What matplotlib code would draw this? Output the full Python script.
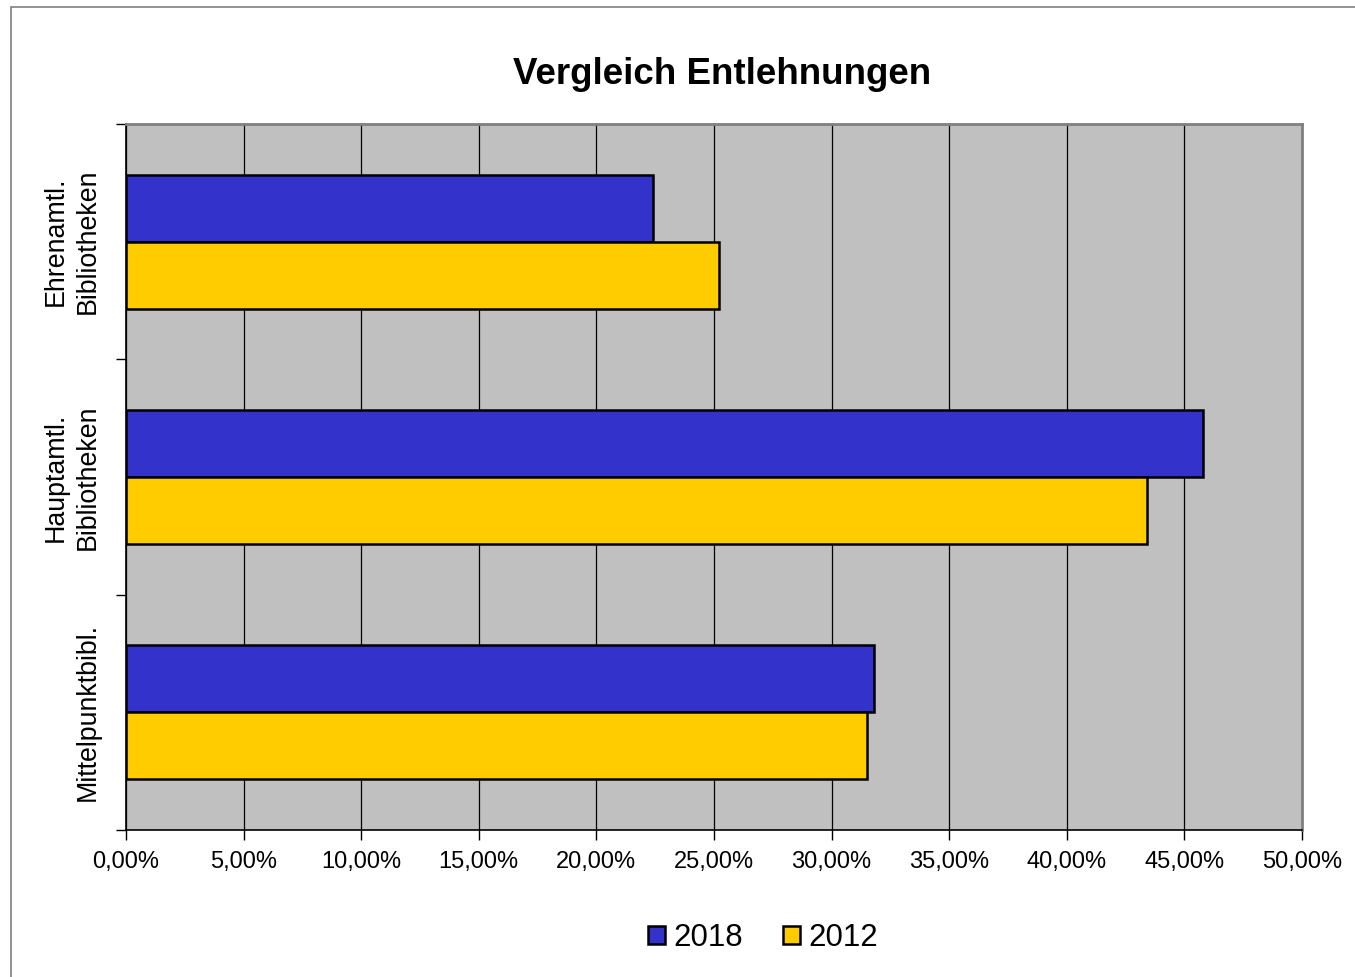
import numpy as np
import matplotlib.pyplot as plt
from matplotlib.patches import Rectangle
from matplotlib.ticker import FuncFormatter

plt.rcParams['font.family'] = ['Liberation Sans', 'DejaVu Sans']

kategorien = ['Ehrenamtl.\nBibliotheken', 'Hauptamtl.\nBibliotheken', 'Mittelpunktbibl.']
werte_2018 = [22.4, 45.8, 31.8]
werte_2012 = [25.2, 43.4, 31.5]
jahre = ['2018', '2012']

fig = plt.figure(figsize=(13.55, 9.77), dpi=100)
ax = fig.add_axes([126 / 1355, 1 - 830 / 977, (1302 - 126) / 1355, (830 - 124) / 977])

# Rahmen um das ganze Diagramm
fig.patches.append(Rectangle((11 / 1355, -0.05), 1.1, 1 - 7 / 977 + 0.05,
                             transform=fig.transFigure, fill=False,
                             edgecolor='#808080', linewidth=1.2))

y = np.arange(len(kategorien))
h = 0.285
ax.barh(y - h / 2, werte_2018, height=h, color='#3333CC', edgecolor='black',
        linewidth=1.8, label=jahre[0], zorder=3)
ax.barh(y + h / 2, werte_2012, height=h, color='#FFCC00', edgecolor='black',
        linewidth=1.8, label=jahre[1], zorder=3)

ax.set_facecolor('#C0C0C0')
ax.set_xlim(0, 50)
ax.set_ylim(2.5, -0.5)
ax.set_xticks(np.arange(0, 51, 5))
ax.xaxis.set_major_formatter(FuncFormatter(lambda v, p: f'{v:.2f}%'.replace('.', ',')))
ax.grid(axis='x', color='black', linewidth=0.9, zorder=1)
ax.set_axisbelow(True)

ax.set_yticks([-0.5, 0.5, 1.5, 2.5])
ax.set_yticklabels([])
ax.set_yticks(y, minor=True)
ax.set_yticklabels(kategorien, minor=True, rotation=90, va='center',
                   multialignment='center', fontsize=19.3, linespacing=1.3)
ax.tick_params(axis='y', which='minor', length=0, pad=18)
ax.tick_params(axis='y', which='major', length=7, width=1, direction='out')
ax.tick_params(axis='x', length=7, width=1, direction='out', labelsize=17, pad=8)

for s in ['left', 'bottom']:
    ax.spines[s].set_color('black')
    ax.spines[s].set_linewidth(1.2)
for s in ['top', 'right']:
    ax.spines[s].set_color('#808080')
    ax.spines[s].set_linewidth(2)

fig.text(722 / 1355, 1 - 74 / 977, 'Vergleich Entlehnungen', ha='center', va='center',
         fontsize=26.5, fontweight='bold')

fig.legend(loc='center', bbox_to_anchor=(763 / 1355, 1 - 938 / 977), ncol=2,
           frameon=False, fontsize=22.5, handlelength=0.55, handleheight=0.55,
           handletextpad=0.25, columnspacing=1.3)

fig.savefig('out.png', dpi=100)
